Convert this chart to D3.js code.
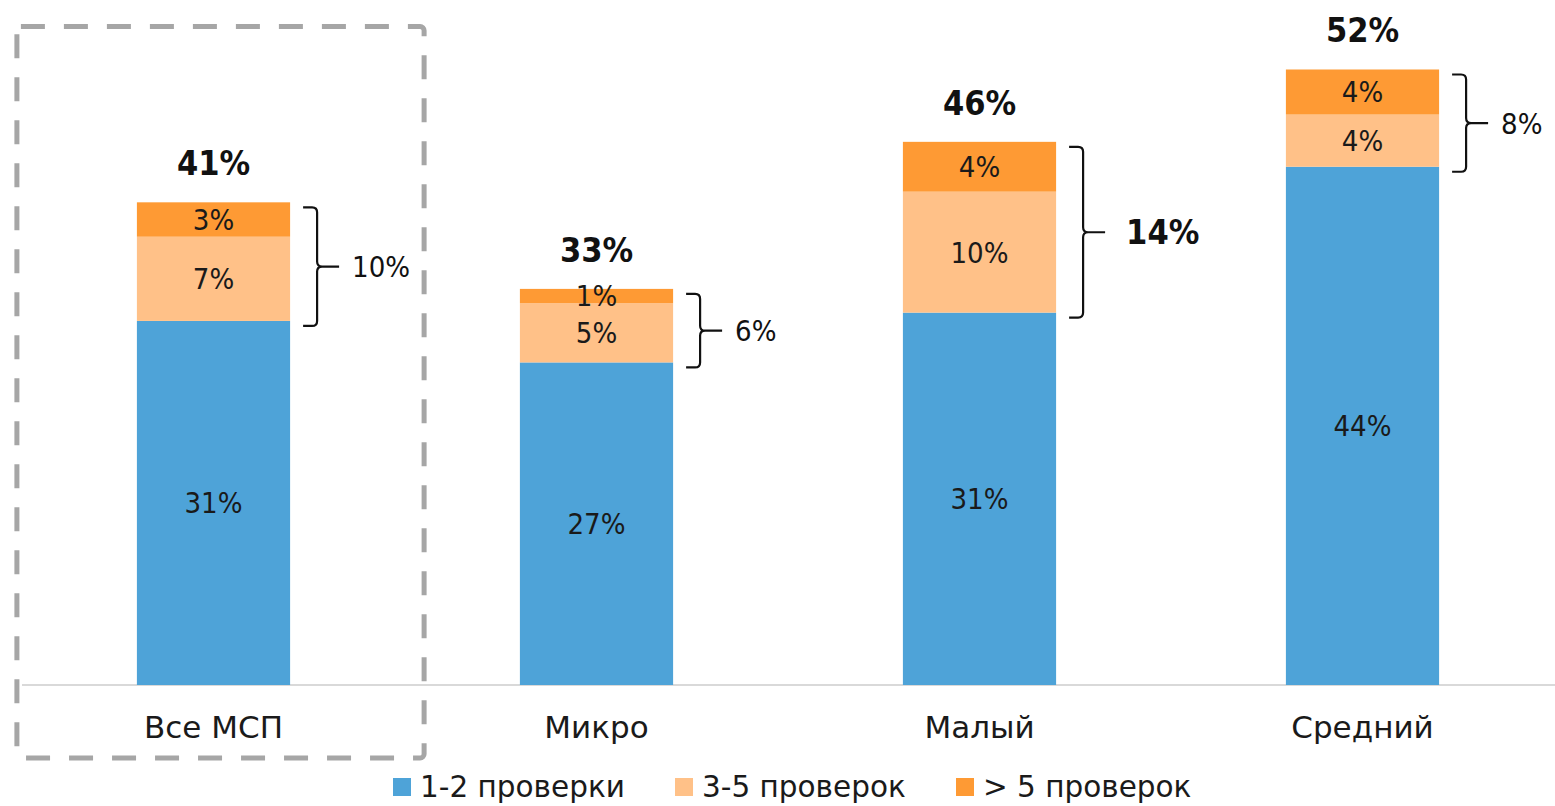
<!DOCTYPE html>
<html><head><meta charset="utf-8">
<script src="https://cdn.jsdelivr.net/npm/d3@7"></script>
<style>
html,body{margin:0;padding:0;background:#fff;}
svg{display:block;}
.reg{font-family:"DejaVu Sans",sans-serif;}
.cond{font-family:"DejaVu Sans Condensed","DejaVu Sans",sans-serif;}
</style></head>
<body>
<svg id="chart" width="1555" height="806"></svg>
<script>
const categories = ["Все МСП", "Микро", "Малый", "Средний"];
const seriesNames = ["1-2 проверки", "3-5 проверок", "> 5 проверок"];
const checks12 = [30.7, 27.2, 31.4, 43.7];
const checks35 = [7.1, 5.0, 10.2, 4.4];
const checks5plus = [2.9, 1.2, 4.2, 3.8];
const highlightedBracket = "Малый";

const colors = ["#4ea3d8", "#ffc188", "#fe9a34"];
const svg = d3.select("#chart");
const W = 1555, baseY = 685;

const x = d3.scaleBand().domain(categories).range([22, 1554]).paddingInner(0.6).paddingOuter(0.3);
const y = d3.scaleLinear().domain([0, 57.76]).range([baseY, 0]);

const rows = categories.map((c, i) => ({cat: c, a: checks12[i], b: checks35[i], c: checks5plus[i]}));
const stack = d3.stack().keys(["a", "b", "c"])(rows);
const fmt = v => Math.round(v) + "%";

// dashed highlight box around first category
const bx0 = x(categories[0]) - 120, bx1 = x(categories[0]) + x.bandwidth() + 134;
svg.append("rect").attr("x", bx0).attr("y", 26.5).attr("width", bx1 - bx0).attr("height", 731.5)
  .attr("rx", 4).attr("fill", "none").attr("stroke", "#a6a6a6").attr("stroke-width", 5)
  .attr("stroke-dasharray", "24,19");

// axis line
svg.append("line").attr("x1", 22).attr("x2", W).attr("y1", baseY).attr("y2", baseY)
  .attr("stroke", "#d9d9d9").attr("stroke-width", 2);

// bars
stack.forEach((layer, li) => {
  const g = svg.append("g");
  g.selectAll("rect").data(layer).join("rect")
    .attr("x", d => x(d.data.cat)).attr("width", x.bandwidth())
    .attr("y", d => y(d[1])).attr("height", d => y(d[0]) - y(d[1]))
    .attr("fill", colors[li]);
  g.selectAll("text").data(layer).join("text")
    .attr("class", "cond")
    .attr("x", d => x(d.data.cat) + x.bandwidth() / 2)
    .attr("y", d => (y(d[0]) + y(d[1])) / 2)
    .attr("dy", "0.36em").attr("text-anchor", "middle")
    .attr("font-size", 29).attr("fill", "#1a1a1a")
    .text(d => fmt(d[1] - d[0]));
});

// totals
svg.append("g").selectAll("text").data(rows).join("text")
  .attr("class", "cond")
  .attr("x", d => x(d.cat) + x.bandwidth() / 2)
  .attr("y", d => y(d.a + d.b + d.c) - 27)
  .attr("text-anchor", "middle").attr("font-size", 34).attr("font-weight", "bold").attr("fill", "#111")
  .text(d => fmt(d.a + d.b + d.c));

// brackets
rows.forEach(d => {
  const right = x(d.cat) + x.bandwidth();
  const top = y(d.a + d.b + d.c) + 5, bot = y(d.a) + 5;
  const x0 = right + 13, sp = right + 27, tick = right + 49, mid = (top + bot) / 2, r = 5;
  const p = `M${x0},${top} L${sp - r},${top} Q${sp},${top} ${sp},${top + r} L${sp},${mid - r} Q${sp},${mid} ${sp + r},${mid} L${tick},${mid}` +
            ` M${sp + r},${mid} Q${sp},${mid} ${sp},${mid + r} L${sp},${bot - r} Q${sp},${bot} ${sp - r},${bot} L${x0},${bot}`;
  svg.append("path").attr("d", p).attr("fill", "none").attr("stroke", "#111").attr("stroke-width", 2.2);
  const bold = d.cat === highlightedBracket;
  svg.append("text").attr("class", "cond")
    .attr("x", right + (bold ? 70 : 62)).attr("y", mid).attr("dy", "0.36em")
    .attr("font-size", bold ? 34 : 29).attr("font-weight", bold ? "bold" : "normal").attr("fill", "#111")
    .text(fmt(d.b + d.c));
});

// category labels
svg.append("g").selectAll("text").data(categories).join("text")
  .attr("class", "reg")
  .attr("x", c => x(c) + x.bandwidth() / 2).attr("y", 738)
  .attr("text-anchor", "middle").attr("font-size", 31).attr("fill", "#1a1a1a")
  .text(c => c);

// legend
const legX = [393, 675, 956];
const lg = svg.append("g");
seriesNames.forEach((n, i) => {
  lg.append("rect").attr("x", legX[i]).attr("y", 778).attr("width", 18).attr("height", 18).attr("fill", colors[i]);
  lg.append("text").attr("class", "reg").attr("x", legX[i] + 27).attr("y", 797)
    .attr("font-size", 29.5).attr("fill", "#1a1a1a").text(n);
});
</script>
</body></html>
